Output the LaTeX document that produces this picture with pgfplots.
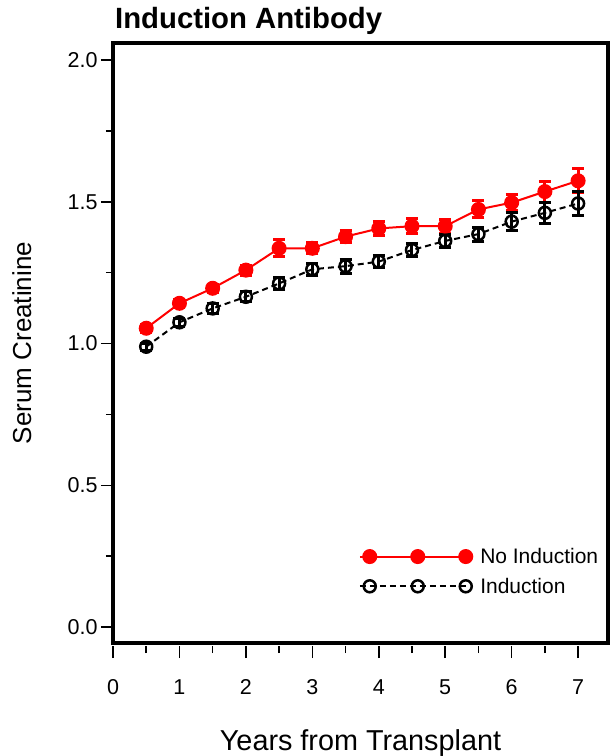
\documentclass[border=0pt]{standalone}
\usepackage{fontspec}
\setmainfont{Liberation Sans}
\usepackage{pgfplots}
\pgfplotsset{compat=1.18}
\definecolor{myred}{RGB}{255,0,0}
\begin{document}
\begin{tikzpicture}
\useasboundingbox (-113pt,-113pt) rectangle (498pt,643pt);
\begin{axis}[
  scale only axis, width=495pt, height=600pt,
  xmin=0, xmax=7.45, ymin=-0.056, ymax=2.06,
  axis line style={line width=3.5pt, line cap=rect},
  xtick={0,1,...,7}, minor x tick num=1,
  ytick={0,0.5,1,1.5,2}, minor y tick num=1,
  xtick pos=bottom, ytick pos=left,
  tick align=outside,
  major tick length=12pt, minor tick length=7pt,
  tick style={line width=1.5pt, black},
  xtick style={yshift=-3pt},
  /pgf/number format/assume math mode=true,
  yticklabel style={/pgf/number format/fixed,/pgf/number format/fixed zerofill,/pgf/number format/precision=1},
  ticklabel style={font=\fontsize{21.5}{24}\selectfont},
  xticklabel style={yshift=-21pt},
  every axis y label/.style={at={(axis description cs:-0.184,0.5)},rotate=90,anchor=center,font=\fontsize{26}{30}\selectfont},
  every axis x label/.style={at={(axis description cs:0.5,-0.18)},anchor=base,font=\fontsize{28.8}{32}\selectfont},
  xlabel={Years from Transplant},
  ylabel={Serum Creatinine},
  title={Induction Antibody},
  title style={at={(axis description cs:0.004,1.014)},anchor=base west,inner sep=0pt,font=\bfseries\fontsize{29.3}{32}\selectfont},
  legend image code/.code={
    \draw[#1,mark=none] (-10pt,0pt) -- (98pt,0pt);
    \draw[#1,only marks] plot coordinates {(0pt,0pt) (48pt,0pt) (96pt,0pt)};
  },
  legend cell align=left,
  legend style={at={(axis description cs:0.49,0.165)},anchor=north west,draw=none,fill=none,
    font=\fontsize{21}{24}\selectfont, row sep=9pt, column sep=6pt},
]
\addplot[myred, line width=2pt, mark=*, mark size=6.5pt, mark options={solid,fill=myred,draw=myred},
  error bars/.cd, y dir=both, y explicit,
  error bar style={line width=3pt, myred},
  error mark options={rotate=90, mark size=6pt, line width=3pt, myred}]
  table[x=x,y=y,y error=e] {
x y e
0.5 1.054 0.015
1 1.142 0.015
1.5 1.195 0.015
2 1.259 0.018
2.5 1.336 0.03
3 1.336 0.02
3.5 1.377 0.022
4 1.406 0.025
4.5 1.414 0.027
5 1.414 0.025
5.5 1.473 0.03
6 1.497 0.028
6.5 1.536 0.037
7 1.574 0.042
};
\addlegendentry{No Induction}
\addplot[black, line width=2pt, dash pattern=on 6pt off 4pt, mark=o, mark size=6pt, mark options={solid,line width=2.5pt,fill=none},
  error bars/.cd, y dir=both, y explicit,
  error bar style={line width=3pt, black, solid},
  error mark options={rotate=90, mark size=6pt, line width=3pt, black, solid}]
  table[x=x,y=y,y error=e] {
x y e
0.5 0.989 0.012
1 1.075 0.015
1.5 1.124 0.017
2 1.165 0.017
2.5 1.212 0.02
3 1.262 0.022
3.5 1.273 0.025
4 1.289 0.02
4.5 1.330 0.023
5 1.362 0.022
5.5 1.386 0.025
6 1.430 0.032
6.5 1.461 0.038
7 1.494 0.042
};
\addlegendentry{Induction}
\end{axis}
\end{tikzpicture}
\end{document}
